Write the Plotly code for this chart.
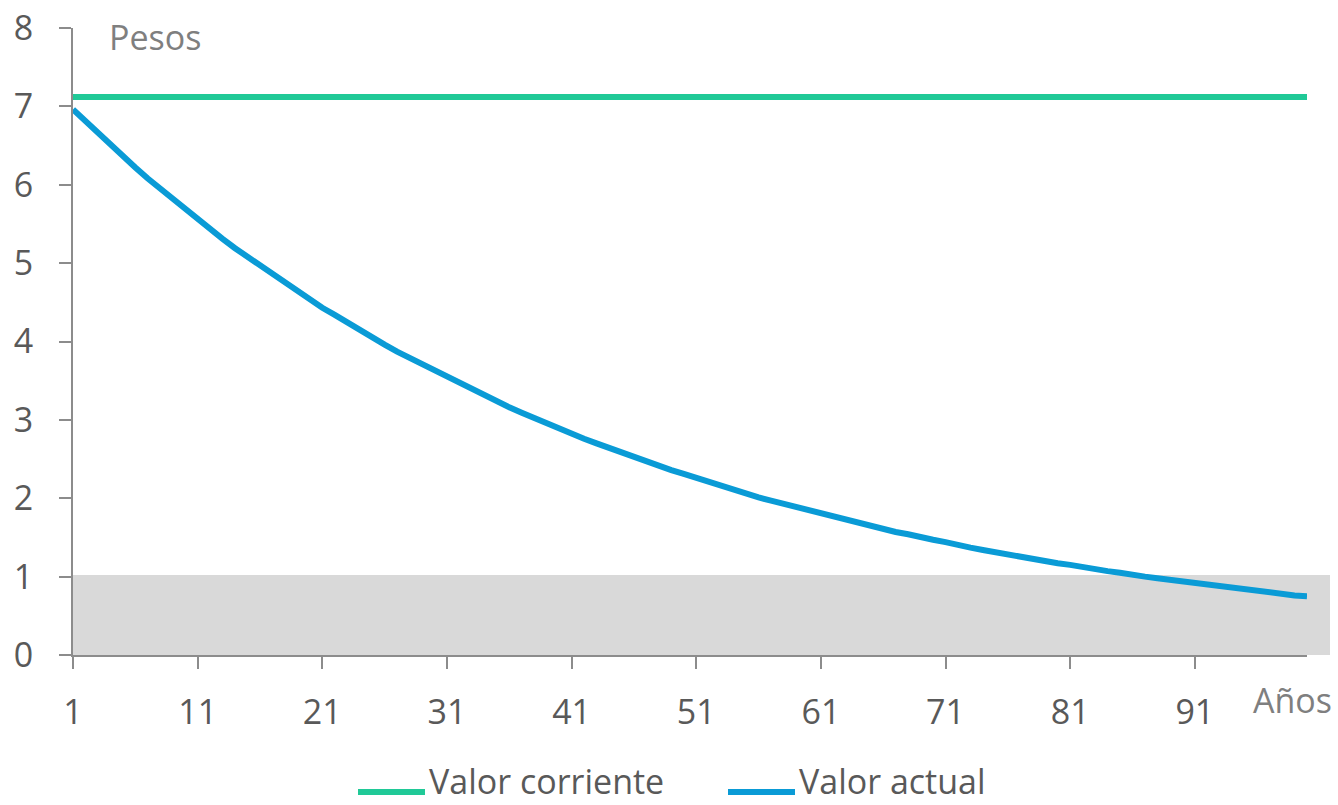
import plotly.graph_objects as go

# Años 1..100
anios = list(range(1, 101))

# Valor corriente: constante en pesos
valor_corriente = [7.12] * 100

# Valor actual (descontado) por año
valor_actual = [
    6.96, 6.81, 6.65, 6.51, 6.36, 6.22, 6.08, 5.95, 5.81, 5.68,
    5.56, 5.43, 5.31, 5.19, 5.08, 4.96, 4.85, 4.75, 4.64, 4.54,
    4.43, 4.34, 4.24, 4.14, 4.05, 3.96, 3.87, 3.79, 3.70, 3.62,
    3.54, 3.46, 3.38, 3.31, 3.23, 3.16, 3.09, 3.02, 2.96, 2.89,
    2.83, 2.76, 2.70, 2.64, 2.58, 2.52, 2.47, 2.41, 2.36, 2.31,
    2.26, 2.20, 2.16, 2.11, 2.06, 2.01, 1.97, 1.93, 1.88, 1.84,
    1.80, 1.76, 1.72, 1.68, 1.64, 1.61, 1.57, 1.54, 1.50, 1.47,
    1.44, 1.40, 1.37, 1.34, 1.31, 1.28, 1.25, 1.23, 1.20, 1.17,
    1.15, 1.12, 1.10, 1.07, 1.05, 1.02, 1.00, 0.98, 0.96, 0.94,
    0.92, 0.89, 0.87, 0.86, 0.84, 0.82, 0.80, 0.78, 0.76, 0.75,
]

# Umbral de la banda gris
umbral = 1.02

x_ticks = [1, 11, 21, 31, 41, 51, 61, 71, 81, 91]
y_ticks = [0, 1, 2, 3, 4, 5, 6, 7, 8]

series = [
    ("Valor corriente", valor_corriente, "#20C997"),
    ("Valor actual", valor_actual, "#0A9BD6"),
]

FONT = "Open Sans"
FS = 34
TXT = "#595959"
AXC = "#8C8C8C"

# Geometría del área de trazado (px)
L, R, T, B = 73, 31, 28, 150
PW = 1338 - L - R
PH = 805 - T - B

fig = go.Figure()

for name, vals, color in series:
    fig.add_trace(go.Scatter(
        x=anios, y=vals, name=name, mode="lines",
        line=dict(color=color, width=6),
        showlegend=False, hoverinfo="skip",
    ))

shapes = [
    # banda gris bajo el umbral
    dict(type="rect", xref="paper", yref="y", x0=0, x1=(1330 - L) / PW, y0=0, y1=umbral,
         fillcolor="#D9D9D9", line=dict(width=0), layer="below"),
]

annotations = [
    dict(text="Pesos", xref="paper", yref="paper", x=(107 - L) / PW, y=1 - 9 / PH,
         xanchor="left", yanchor="middle", showarrow=False,
         font=dict(family=FONT, size=FS, color="#7F7F7F")),
    dict(text="Años", xref="paper", yref="paper", x=(1334 - L) / PW, y=-45 / PH,
         xanchor="right", yanchor="middle", showarrow=False,
         font=dict(family=FONT, size=FS, color="#7F7F7F")),
]

# Leyenda manual con muestras de línea largas
legend_px = [358, 728]
for (name, vals, color), px in zip(series, legend_px):
    lx = (px - L) / PW
    shapes.append(dict(type="line", xref="paper", yref="paper",
                       x0=lx, x1=lx + 67 / PW, y0=-137 / PH, y1=-137 / PH,
                       line=dict(color=color, width=6)))
    annotations.append(dict(text=name, xref="paper", yref="paper",
                            x=lx + 70 / PW, y=-150 / PH, xanchor="left", yanchor="bottom",
                            borderpad=0, showarrow=False,
                            font=dict(family=FONT, size=FS, color=TXT)))

fig.update_layout(
    width=1338, height=805,
    margin=dict(l=L, r=R, t=T, b=B, autoexpand=False),
    paper_bgcolor="white", plot_bgcolor="white",
    font=dict(family=FONT, size=FS, color=TXT),
    shapes=shapes, annotations=annotations,
    xaxis=dict(
        range=[1, 100], tickmode="array", tickvals=x_ticks,
        ticktext=[str(t) for t in x_ticks], automargin=False,
        showline=True, linecolor=AXC, linewidth=2,
        ticks="outside", ticklen=12, tickwidth=2, tickcolor=AXC,
        showgrid=False, zeroline=False, ticklabelstandoff=14,
        tickfont=dict(family=FONT, size=FS, color=TXT),
    ),
    yaxis=dict(
        range=[0, 8], tickmode="array", tickvals=y_ticks, automargin=False,
        showline=True, linecolor=AXC, linewidth=2,
        ticks="outside", ticklen=12, tickwidth=2, tickcolor=AXC,
        showgrid=False, zeroline=False, ticklabelstandoff=19,
        tickfont=dict(family=FONT, size=FS, color=TXT),
    ),
)

fig.write_html("out.html")
